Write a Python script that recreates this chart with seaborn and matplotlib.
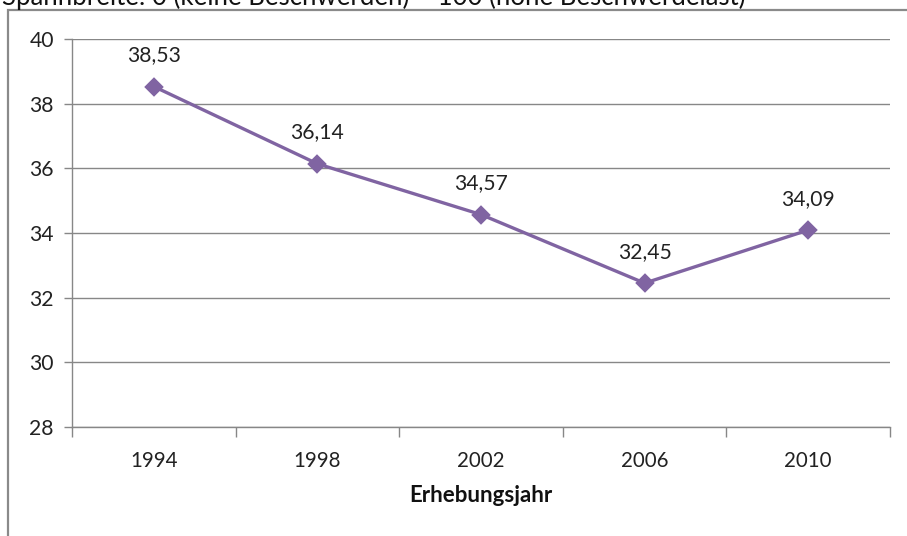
import matplotlib
matplotlib.use("Agg")
import matplotlib.pyplot as plt
import seaborn as sns
import pandas as pd
from matplotlib.patches import Rectangle
from matplotlib.ticker import FixedLocator

years = ["1994", "1998", "2002", "2006", "2010"]
values = [38.53, 36.14, 34.57, 32.45, 34.09]
value_labels = ["38,53", "36,14", "34,57", "32,45", "34,09"]
y_ticks = [28, 30, 32, 34, 36, 38, 40]
title_text = "Spannbreite: 0 (keine Beschwerden) – 100 (hohe Beschwerdelast)"
x_title = "Erhebungsjahr"

sns.set_theme(style="white")
plt.rcParams["font.family"] = ["Lato", "DejaVu Sans"]

W, H = 907, 536
fig = plt.figure(figsize=(W / 100, H / 100), dpi=100)
ax = fig.add_axes([72 / W, 1 - 427 / H, 818 / W, 388 / H])

df = pd.DataFrame({"year": years, "value": values})
purple = "#8064A2"
sns.pointplot(data=df, x="year", y="value", color=purple, markers="D",
              markersize=8.5, linewidth=2.4, errorbar=None, ax=ax)

ax.set_xlim(-0.5, len(years) - 0.5)
ax.set_ylim(28, 40)
ax.set_yticks(y_ticks)
ax.set_yticklabels([str(t) for t in y_ticks])
ax.grid(axis="y", color="#878787", linewidth=1.0)
ax.set_axisbelow(True)

for s in ["top", "right"]:
    ax.spines[s].set_visible(False)
for s in ["left", "bottom"]:
    ax.spines[s].set_color("#878787")
    ax.spines[s].set_linewidth(1.0)

# x ticks at category boundaries
ax.xaxis.set_minor_locator(FixedLocator([i - 0.5 for i in range(len(years) + 1)]))
ax.tick_params(axis="x", which="major", length=0, pad=17, labelsize=14.8, labelcolor="#222222")
ax.tick_params(axis="x", which="minor", length=7, width=1.0, color="#878787", bottom=True)
ax.tick_params(axis="y", which="major", length=6, width=1.0, color="#878787", left=True,
               pad=7, labelsize=15.2, labelcolor="#222222")

ax.set_xlabel(x_title, fontsize=16, fontweight="bold", labelpad=10, color="#111111")
ax.set_ylabel("")

for i, (v, lab) in enumerate(zip(values, value_labels)):
    ax.annotate(lab, (i, v), xytext=(0, 22.5), textcoords="offset points",
                ha="center", va="center", fontsize=15.2, color="#222222")

fig.text(2 / W, 1 - 5 / H, title_text, ha="left", va="baseline", fontsize=18.5, color="#111111")

frame = Rectangle((8 / W, -0.2), 1.2, 1 - 10 / H + 0.2, transform=fig.transFigure,
                  fill=False, edgecolor="#8a8a8a", linewidth=1.6, clip_on=False)
fig.patches.append(frame)

fig.savefig("out.png", dpi=100)
